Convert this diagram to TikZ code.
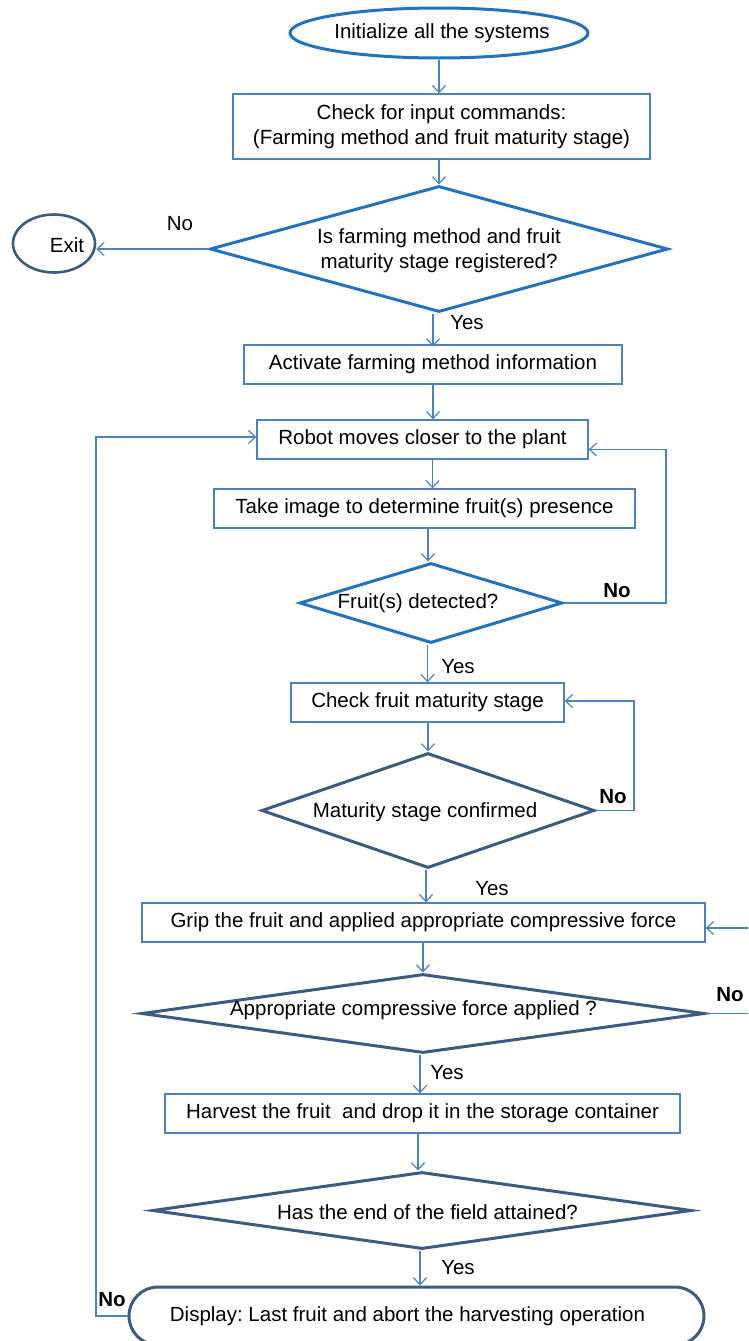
\documentclass[tikz,border=0pt]{standalone}
\usepackage{fontspec}
\setmainfont{Liberation Sans}
\usetikzlibrary{shapes.geometric,arrows.meta}
\definecolor{boxblue}{RGB}{79,129,189}
\definecolor{brightblue}{RGB}{36,113,190}
\definecolor{darkblue}{RGB}{62,89,130}
\frenchspacing

\begin{document}
\begin{tikzpicture}[x=1pt,y=-1pt,font=\fontsize{20.5}{25}\selectfont,
  line/.style={draw=boxblue,line width=1.2pt,-{Straight Barb[length=7pt,width=13pt]}},
  box/.style={draw=boxblue,line width=1.3pt,minimum height=39pt,inner sep=0pt,align=center},
  bdia/.style={diamond,draw=brightblue,line width=3pt,inner sep=0pt},
  ddia/.style={diamond,draw=darkblue,line width=3pt,inner sep=0pt},
  txt/.style={inner sep=0pt,align=center}]
\useasboundingbox (0,0) rectangle (748,1341);
\clip (0,0) rectangle (748,1341);

\node[ellipse,draw=brightblue,line width=3pt,minimum width=298pt,minimum height=50pt,inner sep=0pt] (init) at (439,33) {};
\node[txt] (initt) at (442,33) {Initialize all the systems};
\node[box,minimum width=417pt,minimum height=65pt] (cmd) at (441.5,126.5) {Check for input commands:\\(Farming method and fruit maturity stage)};
\node[bdia,minimum width=458pt,minimum height=126pt] (reg) at (439,249) {};
\node[txt] (regt) at (439,251) {Is farming method and fruit\\maturity stage registered?};
\node[ellipse,draw=darkblue,line width=2.6pt,minimum width=82pt,minimum height=58pt] (exit) at (54,243.5) {};
\node[txt] (exitt) at (67,245) {Exit};
\node[box,minimum width=378pt] (act) at (433,364.5) {Activate farming method information};
\node[box,minimum width=331pt] (robot) at (422.5,439.5) {Robot moves closer to the plant};
\node[box,minimum width=421pt] (take) at (424.5,508.5) {Take image to determine fruit(s) presence};
\node[bdia,minimum width=263pt,minimum height=80pt] (fruit) at (431,603) {};
\node[txt] (fruitt) at (418,603) {Fruit(s) detected?};
\node[box,minimum width=273pt] (chk) at (427.5,702.5) {Check fruit maturity stage};
\node[ddia,minimum width=333pt,minimum height=115pt] (mat) at (428,810.5) {};
\node[txt] (matt) at (425,812) {Maturity stage confirmed};
\node[box,minimum width=563pt] (grip) at (423.5,922.5) {Grip the fruit and applied appropriate compressive force};
\node[ddia,minimum width=563pt,minimum height=79pt] (app) at (423,1013.5) {};
\node[txt] (appt) at (413.5,1010) {Appropriate compressive force applied ?};
\node[box,minimum width=515pt] (harv) at (422.5,1113.5) {Harvest the fruit \ and drop it in the storage container};
\node[ddia,minimum width=539pt,minimum height=77pt] (end) at (422,1210.5) {};
\node[txt] (endt) at (427.5,1212) {Has the end of the field attained?};
\node[draw=darkblue,line width=3pt,rounded corners=29pt,minimum width=575pt,minimum height=58pt,inner sep=0pt] (disp) at (416.5,1316) {};
\node[txt] (dispt) at (407.5,1316) {Display: Last fruit and abort the harvesting operation};

\coordinate (fr) at (666,603);
\coordinate (mr) at (634,810.5);
\coordinate (ar) at (770,1013.5);
\coordinate (lp) at (96,1316);

\draw[line] (init.south) -- (init.south |- cmd.north);
\draw[line] (cmd.south -| reg.north) -- (reg.north);
\draw[line] (reg.west) -- (exit.east |- reg.west);
\draw[line] (reg.south -| act.north) -- ++(0,33);
\draw[line] (act.south) -- (act.south |- robot.north);
\draw[line] ([xshift=10pt]robot.south) -- ([xshift=10pt]robot.south |- take.north);
\draw[line] (take.south -| 428,0) -- (fruit.north -| 428,0);
\draw[line] (fruit.south -| chk.north) -- (chk.north);
\draw[line] (chk.south -| mat.north) -- (mat.north);
\draw[line] (mat.south -| 426,0) -- (grip.north -| 426,0);
\draw[line] (grip.south -| app.north) -- (app.north);
\draw[line] (app.south -| 420,0) -- (harv.north -| 420,0);
\draw[line] (harv.south -| 418,0) -- (end.north -| 418,0);
\draw[line] (end.south -| 420,0) -- (disp.north -| 420,0);

\draw[line] (fruit.east) -- (fr) |- ([yshift=-10pt]robot.east);
\draw[line] (mat.east) -- (mr) |- ([yshift=1.5pt]chk.east);
\draw[line] (app.east) -- (ar) |- ([yshift=-5.5pt]grip.east);
\draw[line] (disp.west) -- (lp) |- ([yshift=2.5pt]robot.west);

\node (no1) at (180,224) {No};
\node (yes1) at (467,323) {Yes};
\node[font=\fontsize{20.5}{25}\selectfont\bfseries] (no2) at (617,591) {No};
\node (yes2) at (458,667) {Yes};
\node[font=\fontsize{20.5}{25}\selectfont\bfseries] (no3) at (613,797) {No};
\node (yes3) at (492,889) {Yes};
\node[font=\fontsize{20.5}{25}\selectfont\bfseries] (no4) at (730,995) {No};
\node (yes4) at (447,1073) {Yes};
\node (yes5) at (458,1268) {Yes};
\node[font=\fontsize{20.5}{25}\selectfont\bfseries] (no5) at (112,1300) {No};
\end{tikzpicture}
\end{document}
